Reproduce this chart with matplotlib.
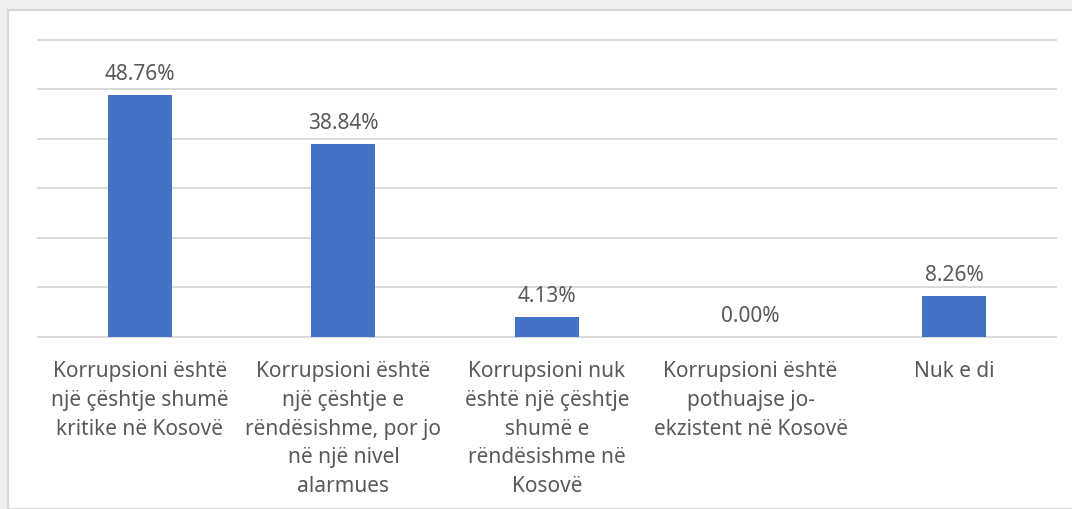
import matplotlib
matplotlib.use("Agg")
import matplotlib.pyplot as plt
from matplotlib.patches import Rectangle

categories = [
    "Korrupsioni është\nnjë çështje shumë\nkritike në Kosovë",
    "Korrupsioni është\nnjë çështje e\nrëndësishme, por jo\nnë një nivel\nalarmues",
    "Korrupsioni nuk\nështë një çështje\nshumë e\nrëndësishme në\nKosovë",
    "Korrupsioni është\npothuajse jo-\nekzistent në Kosovë",
    "Nuk e di",
]
values = [48.76, 38.84, 4.13, 0.00, 8.26]
value_labels = ["48.76%", "38.84%", "4.13%", "0.00%", "8.26%"]
y_ticks = [0, 10, 20, 30, 40, 50, 60]

plt.rcParams['font.family'] = ['Noto Sans', 'DejaVu Sans']
text_color = "#595959"
fs = 15

fig = plt.figure(figsize=(10.72, 5.10), dpi=100)
fig.patch.set_facecolor("#efefef")
fig.patches.append(Rectangle((8 / 1072, 0), 1.0, 1 - 11 / 510, transform=fig.transFigure,
                             facecolor="white", edgecolor="#d6d6d6", linewidth=1.5, zorder=-5))

ax = fig.add_axes([38 / 1072, 1 - 338 / 510, (1056 - 38) / 1072, (338 - 40.5) / 510])
ax.set_zorder(2)
ax.set_facecolor("none")
x = list(range(len(categories)))
ax.bar(x, values, width=0.315, color="#4472c4", zorder=3)
ax.set_xlim(-0.5, len(categories) - 0.5)
ax.set_ylim(0, 60)
ax.set_yticks(y_ticks)
ax.yaxis.grid(True, color="#d9d9d9", linewidth=1.4, zorder=0)
for gl in ax.yaxis.get_gridlines():
    gl.set_clip_on(False)
ax.tick_params(axis='y', length=0, labelleft=False)
for s in ax.spines.values():
    s.set_visible(False)
ax.set_xticks(x)
ax.set_xticklabels(categories, fontsize=fs, color=text_color, linespacing=1.49)
ax.tick_params(axis='x', length=0, pad=16.5)

for xi, v, lab in zip(x, values, value_labels):
    ax.annotate(lab, (xi, v), xytext=(0, 11.5), textcoords="offset points",
                ha="center", va="baseline", fontsize=fs, color=text_color)

fig.savefig("out.png", dpi=100, facecolor=fig.get_facecolor())
